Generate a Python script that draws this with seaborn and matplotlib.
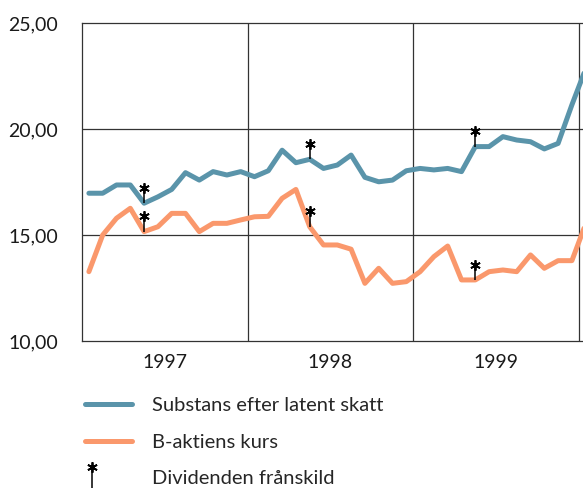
import numpy as np
import pandas as pd
import matplotlib
matplotlib.use("Agg")
import matplotlib.pyplot as plt
import seaborn as sns
from matplotlib.lines import Line2D
from matplotlib.legend_handler import HandlerBase

# månadsvärden jan 1997 - jan 2000
substans = [16.97, 16.97, 17.36, 17.36, 16.50, 16.80, 17.15, 17.94, 17.59, 17.99, 17.83, 17.99,
            17.75, 18.03, 19.00, 18.41, 18.57, 18.14, 18.30, 18.77, 17.72, 17.51, 17.59, 18.03,
            18.14, 18.07, 18.14, 17.99, 19.17, 19.17, 19.64, 19.48, 19.40, 19.06, 19.32, 21.14, 22.84]
b_kurs = [13.27, 15.00, 15.79, 16.26, 15.16, 15.39, 16.02, 16.02, 15.16, 15.55, 15.55, 15.71,
          15.86, 15.88, 16.73, 17.15, 15.39, 14.53, 14.53, 14.33, 12.72, 13.43, 12.72, 12.80,
          13.27, 13.98, 14.48, 12.88, 12.88, 13.27, 13.35, 13.27, 14.06, 13.43, 13.79, 13.79, 15.53]
utdelning_manad = [4, 16, 28]
ar = ["1997", "1998", "1999"]
y_ticks = [10, 15, 20, 25]
serier = ["Substans efter latent skatt", "B-aktiens kurs"]
farger = {serier[0]: "#5a94aa", serier[1]: "#fa986c"}

manad = np.arange(len(substans))
df = pd.DataFrame({
    "manad": np.concatenate([manad, manad]),
    "varde": substans + b_kurs,
    "serie": [serier[0]] * len(substans) + [serier[1]] * len(b_kurs),
})

sns.set_style("white")
plt.rcParams["font.family"] = ["Lato", "DejaVu Sans"]

fig = plt.figure(figsize=(5.83, 4.88), dpi=100)
ax = fig.add_axes([82 / 583, 1 - 341 / 488, 503.7 / 583, 318 / 488])

sns.lineplot(data=df, x="manad", y="varde", hue="serie", palette=farger,
             linewidth=3.6, legend=False, ax=ax)

# utdelning: streck + stjärna ovanför punkten
for s in (substans, b_kurs):
    v = np.array(s)[utdelning_manad]
    ax.vlines(utdelning_manad, v, v + 0.72, color="black", lw=1.1, zorder=4)
    ax.plot(utdelning_manad, v + 0.72, ls="none", marker=(6, 2, 0), ms=7.5,
            mew=1.3, color="black", zorder=5)

ax.set_xlim(-0.5, 36)
ax.set_ylim(10, 25)
ax.set_yticks(y_ticks)
ax.set_yticklabels([f"{t},00" for t in y_ticks], fontsize=14)
ax.set_xticks([5.5, 17.5, 29.5])
ax.set_xticklabels(ar, fontsize=14)
ax.tick_params(axis="y", length=0, pad=17, colors="#1a1a1a")
ax.tick_params(axis="x", length=0, pad=9, colors="#1a1a1a")
for x in [11.5, 23.5, 35.5]:
    ax.axvline(x, color="#333333", lw=0.9, zorder=1)
for y in [15, 20]:
    ax.axhline(y, color="#333333", lw=0.9, zorder=1)
for sp in ["left", "top", "bottom"]:
    ax.spines[sp].set_color("#333333")
    ax.spines[sp].set_linewidth(0.9)
ax.spines["right"].set_visible(False)
ax.set_xlabel("")
ax.set_ylabel("")


class UtdelningHandler(HandlerBase):
    def create_artists(self, legend, orig, xdescent, ydescent, width, height, fontsize, trans):
        x = -xdescent + 5
        top = height * 1.25
        streck = Line2D([x, x], [-ydescent - height * 0.8, top], color="black", lw=1.1, transform=trans)
        stjarna = Line2D([x], [top], ls="none", marker=(6, 2, 0), ms=7.5, mew=1.3,
                         color="black", transform=trans)
        return [streck, stjarna]


handles = [Line2D([], [], color=farger[serier[0]], lw=3.6),
           Line2D([], [], color=farger[serier[1]], lw=3.6),
           Line2D([], [])]
labels = serier + ["Dividenden frånskild"]
fig.legend(handles, labels, loc="upper left", bbox_to_anchor=(85 / 583, 1 - 397 / 488),
           frameon=False, fontsize=14.5, borderpad=0, borderaxespad=0,
           handlelength=2.35, handletextpad=1.0, labelspacing=0.97,
           handler_map={handles[2]: UtdelningHandler()})

fig.savefig("out.png", dpi=100)
